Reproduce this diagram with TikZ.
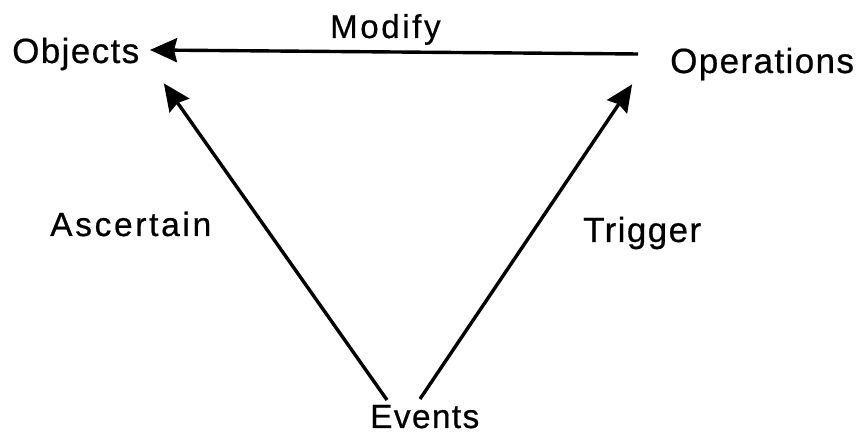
\documentclass[tikz,border=0pt]{standalone}
\usepackage{fontspec}
\setmainfont{Liberation Sans}
\newfontfamily\lab[LetterSpace=4,FakeBold=0.6]{Liberation Sans}
\newfontfamily\labw[LetterSpace=8,FakeBold=0.6]{Liberation Sans}
\usetikzlibrary{arrows.meta}
\tikzset{
  lbl/.style={inner sep=0pt, anchor=base west, font=\lab\fontsize{35}{40}\selectfont},
  conn/.style={line width=3.4pt, -{Stealth[length=27pt 0,width=24pt 0,inset=3pt]}, shorten >=-2pt}
}
\begin{document}
\begin{tikzpicture}[x=1pt,y=1pt]
\useasboundingbox (0,0) rectangle (857,438);
\node[lbl] (obj) at (12,375) {Objects};
\node[lbl] (ops) at (670,365) {Operations};
\node[lbl, font=\labw\fontsize{33}{36}\selectfont] (mod) at (330,400) {Modify};
\node[lbl, font=\labw\fontsize{33.5}{38}\selectfont] (asc) at (50,202) {Ascertain};
\node[lbl] (trg) at (583,196) {Trigger};
\node[lbl, font=\lab\fontsize{33.5}{38}\selectfont] (evt) at (370,10) {Events};
\coordinate (opsL) at (638,384);
\coordinate (objR) at (152,388);
\coordinate (objB) at (165,353);
\coordinate (opsB) at (631,352);
\coordinate (evtL) at (387,38);
\coordinate (evtR) at (420,39);
\draw[conn] (opsL) -- (objR);
\draw[conn] (evtL) -- (objB);
\draw[conn] (evtR) -- (opsB);
\end{tikzpicture}
\end{document}
